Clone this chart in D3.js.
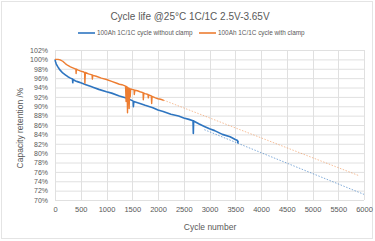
<!DOCTYPE html>
<html>
<head>
<meta charset="utf-8">
<script src="https://cdn.jsdelivr.net/npm/d3@7"></script>
<style>
  body { margin: 0; background: #fff; }
  svg text { font-family: "Liberation Sans", Arial, sans-serif; fill: #595959; }
</style>
</head>
<body>
<svg id="chart" width="375" height="241"></svg>
<script>
// Cycle life chart -- two cells, with and without clamp

var xTicks = [0, 500, 1000, 1500, 2000, 2500, 3000, 3500, 4000, 4500, 5000, 5500, 6000];
var yTicks = [70, 72, 74, 76, 78, 80, 82, 84, 86, 88, 90, 92, 94, 96, 98, 100, 102];

// without clamp (blue)
var noClampCycles = [0, 10, 25, 50, 80, 100, 150, 200, 250, 300, 340, 345, 350, 400, 450, 500, 600, 700,
  750, 850, 1000, 1100, 1250, 1400, 1500, 1518, 1522, 1530, 1650, 1750, 1900, 2000, 2100, 2250, 2400,
  2500, 2600, 2680, 2686, 2692, 2700, 2800, 2900, 3000, 3100, 3250, 3400, 3500, 3545, 3550, 3556];
var noClampValues = [100, 99.5, 99.0, 98.5, 98.0, 97.7, 97.1, 96.7, 96.3, 96.0, 95.8, 95.0, 95.7, 95.4, 95.2, 95.0, 94.6, 94.2,
  94.0, 93.6, 93.1, 92.8, 92.2, 91.7, 91.2, 91.1, 89.9, 91.0, 90.6, 90.2, 89.7, 89.2, 88.9, 88.3, 87.9,
  87.5, 87.2, 86.9, 84.2, 86.9, 86.8, 86.2, 85.7, 85.2, 84.8, 84.0, 83.5, 82.9, 82.7, 82.2, 82.6];

// with clamp (orange)
var clampCycles = [0, 60, 100, 150, 200, 250, 300, 370, 405, 410, 415, 450, 500, 560, 575, 580, 590, 650,
  720, 725, 735, 800, 900, 1000, 1100, 1200, 1250, 1300, 1370, 1380, 1390, 1400, 1408, 1415, 1430, 1440,
  1450, 1460, 1470, 1500, 1535, 1540, 1550, 1600, 1650, 1710, 1715, 1725, 1750, 1805, 1812, 1820, 1870,
  1877, 1885, 1950, 2000, 2050, 2100, 2110];
var clampValues = [100, 100, 99.9, 99.6, 99.1, 98.7, 98.4, 98.1, 97.9, 97.0, 97.9, 97.7, 97.5, 97.3, 97.2, 94.9, 97.2, 96.9,
  96.7, 95.8, 96.6, 96.4, 96.0, 95.7, 95.3, 94.9, 94.7, 94.6, 94.3, 91.0, 94.2, 94.1, 88.6, 93.9, 93.9, 89.5,
  93.8, 92.0, 93.7, 93.6, 93.5, 92.5, 93.4, 93.3, 93.1, 92.9, 91.4, 92.8, 92.7, 92.5, 91.8, 92.4, 92.2,
  90.6, 92.1, 91.8, 91.6, 91.5, 91.3, 91.2];

// linear trend lines (dashed)
var noClampTrendCycles = [2900, 6000];
var noClampTrendValues = [85.0, 71.2];
var clampTrendCycles = [2110, 5900];
var clampTrendValues = [91.3, 75.2];

var seriesNames = ["100Ah 1C/1C cycle without clamp", "100Ah 1C/1C cycle with clamp"];
var seriesColors = ["#2e75c0", "#ed7d31"];

///////////////////////////////////////////////////////////////////////////////
// Scales and grid

var svg = d3.select("#chart");

// outer chart border
svg.append("rect")
  .attr("x", 1.5).attr("y", 1.5).attr("width", 371).attr("height", 237)
  .attr("fill", "none").attr("stroke", "#e4e4e4");

var x = d3.scaleLinear().domain([0, 6000]).range([55, 364]);
var y = d3.scaleLinear().domain([70, 102]).range([200, 50]);

svg.append("g").selectAll("line")
  .data(yTicks).enter().append("line")
  .attr("x1", x(0)).attr("x2", x(6000))
  .attr("y1", function (d) { return y(d) + 0.5; })
  .attr("y2", function (d) { return y(d) + 0.5; })
  .attr("stroke", "#e0e0e0");

svg.append("g").selectAll("line")
  .data(xTicks).enter().append("line")
  .attr("x1", function (d) { return Math.round(x(d)) + 0.5; })
  .attr("x2", function (d) { return Math.round(x(d)) + 0.5; })
  .attr("y1", y(102)).attr("y2", y(70))
  .attr("stroke", "#e0e0e0");

// axes built from the same scales, with the domain line hidden
var yAxis = svg.append("g")
  .attr("transform", "translate(48,0)")
  .call(d3.axisLeft(y).tickValues(yTicks).tickSize(0).tickPadding(0)
    .tickFormat(function (d) { return d + "%"; }));
yAxis.select(".domain").remove();
yAxis.selectAll("text").attr("font-size", "7px").attr("font-family", null);

var xAxis = svg.append("g")
  .attr("transform", "translate(0,207)")
  .call(d3.axisBottom(x).tickValues(xTicks).tickSize(0).tickPadding(0)
    .tickFormat(d3.format("d")));
xAxis.select(".domain").remove();
xAxis.selectAll("text").attr("font-size", "7.5px").attr("font-family", null);

///////////////////////////////////////////////////////////////////////////////
// Lines

var line = d3.line()
  .x(function (d) { return x(d[0]); })
  .y(function (d) { return y(d[1]); });

var pairs = function (xs, ys) {
  return xs.map(function (c, i) { return [c, ys[i]]; });
};

svg.append("path")
  .datum(pairs(noClampTrendCycles, noClampTrendValues))
  .attr("d", line).attr("fill", "none")
  .attr("stroke", seriesColors[0]).attr("stroke-opacity", 0.6)
  .attr("stroke-width", 1).attr("stroke-dasharray", "1.5,1.5");

svg.append("path")
  .datum(pairs(clampTrendCycles, clampTrendValues))
  .attr("d", line).attr("fill", "none")
  .attr("stroke", seriesColors[1]).attr("stroke-opacity", 0.5)
  .attr("stroke-width", 1).attr("stroke-dasharray", "1.5,1.5");

svg.append("path")
  .datum(pairs(noClampCycles, noClampValues))
  .attr("d", line).attr("fill", "none")
  .attr("stroke", seriesColors[0]).attr("stroke-width", 1.6)
  .attr("stroke-linejoin", "round");

svg.append("path")
  .datum(pairs(clampCycles, clampValues))
  .attr("d", line).attr("fill", "none")
  .attr("stroke", seriesColors[1]).attr("stroke-width", 1.4)
  .attr("stroke-linejoin", "round");

///////////////////////////////////////////////////////////////////////////////
// Titles and legend

svg.append("text")
  .attr("x", 190).attr("y", 16).attr("dy", "0.35em")
  .attr("text-anchor", "middle").attr("font-size", "10px")
  .text("Cycle life @25°C 1C/1C 2.5V-3.65V");

svg.append("text")
  .attr("x", 210).attr("y", 227).attr("dy", "0.35em")
  .attr("text-anchor", "middle").attr("font-size", "8.5px")
  .text("Cycle number");

svg.append("text")
  .attr("transform", "translate(20,128) rotate(-90)")
  .attr("dy", "0.35em")
  .attr("text-anchor", "middle").attr("font-size", "8.5px")
  .text("Capacity retention /%");

var legendX = [78, 199];
var legend = svg.append("g").selectAll("g")
  .data(seriesNames).enter().append("g")
  .attr("transform", function (d, i) { return "translate(" + legendX[i] + ",33)"; });

legend.append("line")
  .attr("x1", 0).attr("x2", 17)
  .attr("stroke", function (d, i) { return seriesColors[i]; })
  .attr("stroke-width", 1.6);

legend.append("text")
  .attr("x", 19).attr("dy", "0.35em").attr("font-size", "6.4px")
  .text(function (d) { return d; });
</script>
</body>
</html>
